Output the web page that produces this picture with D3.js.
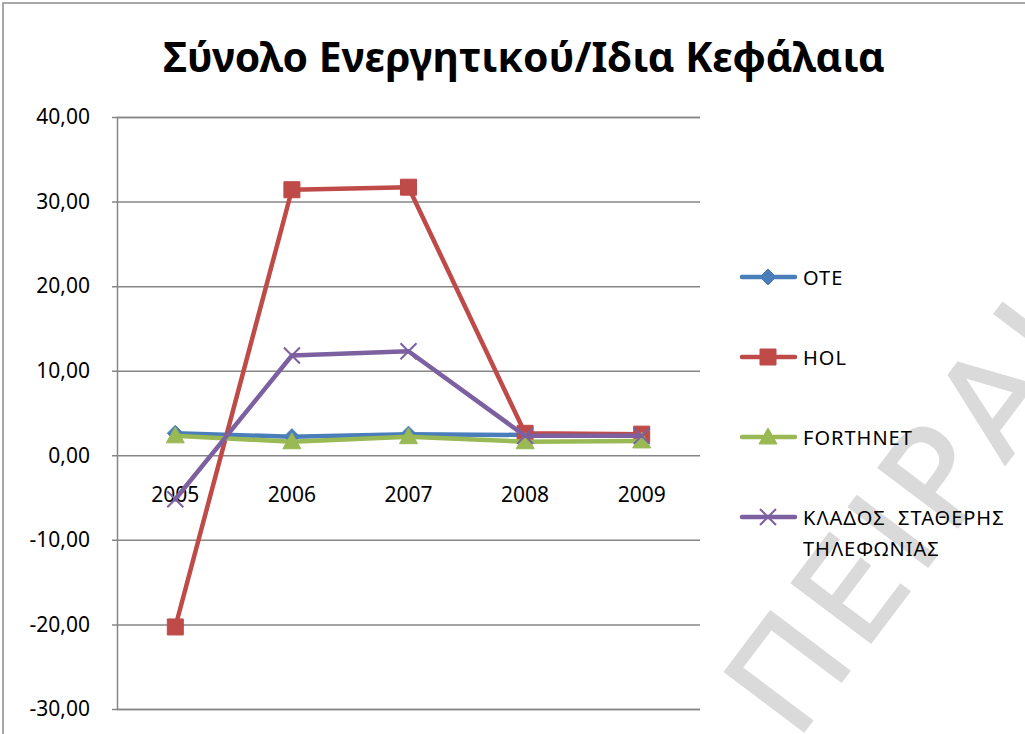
<!DOCTYPE html>
<html>
<head>
<meta charset="utf-8">
<script src="https://cdn.jsdelivr.net/npm/d3@7"></script>
<style>
  body { margin: 0; background: #fff; }
  svg { display: block; font-family: "Noto Sans", "Open Sans", sans-serif; }
</style>
</head>
<body>
<svg width="1025" height="734"></svg>
<script>
// ---- Data
const years = ['2005', '2006', '2007', '2008', '2009'];
const ote = [2.6, 2.2, 2.5, 2.4, 2.4];
const hol = [-20.3, 31.4, 31.7, 2.6, 2.5];
const forthnet = [2.3, 1.6, 2.2, 1.6, 1.7];
const klados = [-5.2, 11.8, 12.3, 2.3, 2.3];
const yTicks = [-30, -20, -10, 0, 10, 20, 30, 40];
const title = 'Σύνολο Ενεργητικού/Ιδια Κεφάλαια';

const series = [
    { name: 'OTE', values: ote, color: '#4a7ebb', marker: 'diamond' },
    { name: 'HOL', values: hol, color: '#be4b48', marker: 'square' },
    { name: 'FORTHNET', values: forthnet, color: '#98b954', marker: 'triangle' },
    { name: ['ΚΛΑΔΟΣ  ΣΤΑΘΕΡΗΣ', 'ΤΗΛΕΦΩΝΙΑΣ'], values: klados, color: '#7d60a0', marker: 'cross' }
];

const svg = d3.select('svg');
const margens = { left: 117, right: 325, top: 117, bottom: 25 };
const width = 1025, height = 734;

// watermark
svg.append('text')
    .attr('transform', 'translate(796,742) rotate(-53)')
    .style('font-family', '"DejaVu Sans", sans-serif')
    .style('font-size', '136px')
    .style('fill', '#dadada')
    .style('stroke', '#dadada')
    .style('stroke-width', 2)
    .style('letter-spacing', '9px')
    .text('ΠΕΙΡΑΙΩΣ');

// chart frame
svg.append('rect')
    .attr('x', 3).attr('y', 3)
    .attr('width', 1100).attr('height', 800)
    .attr('fill', 'none')
    .attr('stroke', '#8c8c8c')
    .attr('stroke-width', 1.5);

// title
const t = svg.append('text')
    .attr('x', 524).attr('y', 72)
    .attr('text-anchor', 'middle')
    .style('font-weight', 'bold')
    .style('font-size', '38px')
    .text(title);
const tl = t.node().getComputedTextLength();
t.style('font-size', (38 * 722 / tl) + 'px');

// ---- Scales
const mapX = d3.scaleBand()
    .domain(years)
    .range([margens.left, width - margens.right]);

const mapY = d3.scaleLinear()
    .domain([-30, 40])
    .range([709, margens.top]);

const cx = d => mapX(d) + mapX.bandwidth() / 2;

// ---- Grid / axis
const yAxis = d3.axisLeft(mapY)
    .tickValues(yTicks)
    .tickSize(-(width - margens.right - margens.left))
    .tickFormat(d => d3.format('.2f')(d).replace('.', ',').replace('−', '-'));

const gy = svg.append('g')
    .attr('transform', `translate(${margens.left},0)`)
    .call(yAxis);
gy.select('.domain').attr('stroke', '#868686').attr('stroke-width', 1.5);
gy.selectAll('.tick line').attr('stroke', '#868686').attr('stroke-width', 1.5).attr('x1', -5);
gy.selectAll('.tick text')
    .attr('x', -27)
    .style('font-size', '21px')
    .style('fill', '#000')
    .style('font-family', '"Noto Sans", sans-serif');

// x labels near zero line
svg.append('g').selectAll('text')
    .data(years)
    .join('text')
    .attr('x', d => cx(d))
    .attr('y', mapY(0) + 47)
    .attr('text-anchor', 'middle')
    .style('font-size', '21px')
    .text(d => d);

// ---- Lines
const line = d3.line()
    .x((d, i) => cx(years[i]))
    .y(d => mapY(d));

const markerPath = (type, x, y) => {
    if (type === 'diamond') return `M${x},${y - 8}L${x + 8},${y}L${x},${y + 8}L${x - 8},${y}Z`;
    if (type === 'square') return `M${x - 8},${y - 8}h16v16h-16Z`;
    if (type === 'triangle') return `M${x},${y - 9}L${x + 9},${y + 7}L${x - 9},${y + 7}Z`;
    return `M${x - 8},${y - 8}L${x + 8},${y + 8}M${x - 8},${y + 8}L${x + 8},${y - 8}`;
};

const drawMarker = (g, s, x, y) => {
    g.append('path')
        .attr('d', markerPath(s.marker, x, y))
        .attr('fill', s.marker === 'cross' ? 'none' : s.color)
        .attr('stroke', s.color)
        .attr('stroke-width', s.marker === 'cross' ? 2 : 1);
};

series.forEach(s => {
    const g = svg.append('g');
    g.append('path')
        .datum(s.values)
        .attr('d', line)
        .attr('fill', 'none')
        .attr('stroke', s.color)
        .attr('stroke-width', 4.5)
        .attr('stroke-linejoin', 'round')
        .attr('stroke-linecap', 'round');
    s.values.forEach((v, i) => drawMarker(g, s, cx(years[i]), mapY(v)));
});

// ---- Legend
const legendY = [277, 357, 437, 517];
series.forEach((s, i) => {
    const g = svg.append('g');
    const y = legendY[i];
    g.append('line')
        .attr('x1', 742).attr('x2', 795)
        .attr('y1', y).attr('y2', y)
        .attr('stroke', s.color)
        .attr('stroke-width', 4.5)
        .attr('stroke-linecap', 'round');
    drawMarker(g, s, 768, y);
    const names = Array.isArray(s.name) ? s.name : [s.name];
    const tx = g.append('text')
        .attr('x', 803).attr('y', y + 8)
        .style('font-size', '20px')
        .style('letter-spacing', '1px')
        .style('white-space', 'pre');
    names.forEach((n, k) => {
        tx.append('tspan')
            .attr('x', 803)
            .attr('dy', k === 0 ? 0 : 31)
            .text(n);
    });
});
</script>
</body>
</html>
